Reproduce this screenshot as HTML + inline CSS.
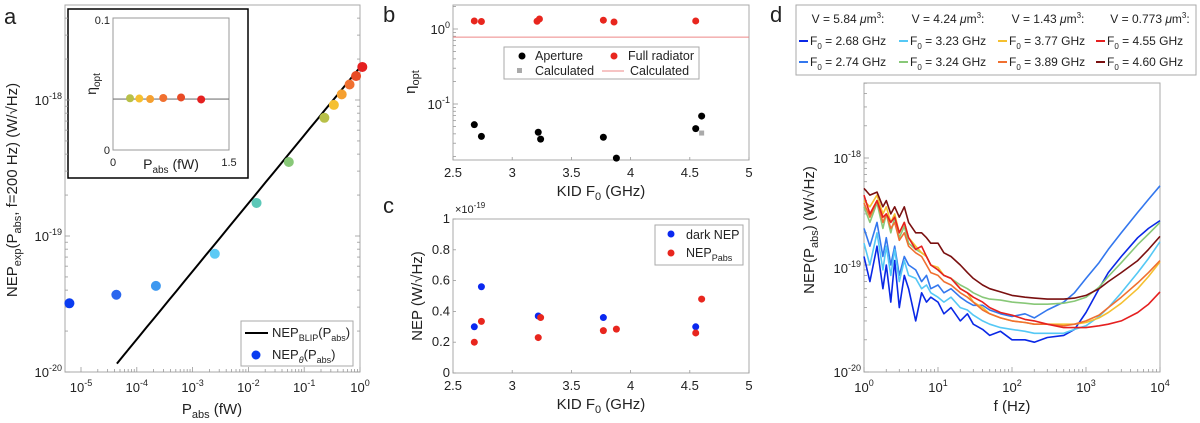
<!DOCTYPE html>
<html><head><meta charset="utf-8">
<style>
html,body{margin:0;padding:0;background:#fff;}
svg{display:block;font-family:"Liberation Sans",sans-serif;}
text{fill:#222;}
</style></head>
<body>
<svg id="fig" width="1200" height="423" viewBox="0 0 1200 423">
<!-- Panel a static -->
<text x="4" y="24" font-size="22">a</text>
<rect x="65" y="5" width="295" height="367" fill="none" stroke="#aaa"/>
<g font-size="13" text-anchor="end">
<text x="62" y="377">10<tspan dy="-6" font-size="9">-20</tspan></text>
<text x="62" y="241">10<tspan dy="-6" font-size="9">-19</tspan></text>
<text x="62" y="105">10<tspan dy="-6" font-size="9">-18</tspan></text>
</g>
<text x="212" y="414" font-size="15" text-anchor="middle">P<tspan dy="4" font-size="11">abs</tspan><tspan dy="-4"> (fW)</tspan></text>
<text transform="translate(17,190) rotate(-90)" font-size="15" text-anchor="middle">NEP<tspan dy="4" font-size="11">exp</tspan><tspan dy="-4">(P</tspan><tspan dy="4" font-size="11">abs</tspan><tspan dy="-4">, f=200 Hz)  (W/√Hz)</tspan></text>
<rect x="241" y="321" width="112" height="45" fill="#fff" stroke="#aaa"/>
<line x1="245" y1="333" x2="268" y2="333" stroke="#000" stroke-width="2"/>
<text x="272" y="337" font-size="13">NEP<tspan dy="4" font-size="9">BLIP</tspan><tspan dy="-4">(P</tspan><tspan dy="4" font-size="9">abs</tspan><tspan dy="-4">)</tspan></text>
<circle cx="256" cy="355" r="4.5" fill="#0a3cf0"/>
<text x="272" y="359" font-size="13">NEP<tspan dy="4" font-size="9" font-style="italic">θ</tspan><tspan dy="-4">(P</tspan><tspan dy="4" font-size="9">abs</tspan><tspan dy="-4">)</tspan></text>
<!-- inset -->
<rect x="68" y="9" width="180" height="169" fill="#fff" stroke="#000" stroke-width="1.5"/>
<rect x="113" y="18" width="116" height="132" fill="none" stroke="#999"/>
<g font-size="11">
<text x="110" y="24" text-anchor="end">0.1</text>
<text x="110" y="154" text-anchor="end">0</text>
<text x="113" y="166" text-anchor="middle">0</text>
<text x="229" y="166" text-anchor="middle">1.5</text>
</g>
<text x="171" y="169" font-size="14" text-anchor="middle">P<tspan dy="4" font-size="10">abs</tspan><tspan dy="-4"> (fW)</tspan></text>
<text transform="translate(96,84) rotate(-90)" font-size="14" text-anchor="middle">η<tspan dy="4" font-size="10">opt</tspan></text>

<!-- Panel b static -->
<text x="383" y="22" font-size="22">b</text>
<rect x="453" y="5" width="296" height="155" fill="none" stroke="#aaa"/>
<g font-size="13" text-anchor="end">
<text x="450" y="34">10<tspan dy="-6" font-size="9">0</tspan></text>
<text x="450" y="109">10<tspan dy="-6" font-size="9">-1</tspan></text>
</g>
<text x="601" y="196" font-size="15" text-anchor="middle">KID F<tspan dy="4" font-size="11">0</tspan><tspan dy="-4"> (GHz)</tspan></text>
<text transform="translate(415,82) rotate(-90)" font-size="15" text-anchor="middle">η<tspan dy="4" font-size="11">opt</tspan></text>
<rect x="504" y="47" width="195" height="32" fill="#fff" stroke="#aaa"/>
<circle cx="522" cy="56" r="3.5" fill="#000"/>
<text x="535" y="60" font-size="12.5">Aperture</text>
<circle cx="614" cy="56" r="3.5" fill="#e8261e"/>
<text x="628" y="60" font-size="12.5">Full radiator</text>
<rect x="517" y="68" width="5" height="5" fill="#aaa"/>
<text x="535" y="75" font-size="12.5">Calculated</text>
<line x1="602" y1="71" x2="624" y2="71" stroke="#e88"/>
<text x="630" y="75" font-size="12.5">Calculated</text>

<!-- Panel c static -->
<text x="383" y="213" font-size="22">c</text>
<text x="455" y="213" font-size="11" fill="#444">×10<tspan dy="-5" font-size="8">-19</tspan></text>
<rect x="453" y="219" width="296" height="154" fill="none" stroke="#aaa"/>
<text x="601" y="409" font-size="15" text-anchor="middle">KID F<tspan dy="4" font-size="11">0</tspan><tspan dy="-4"> (GHz)</tspan></text>
<text transform="translate(422,296) rotate(-90)" font-size="15" text-anchor="middle">NEP (W/√Hz)</text>
<rect x="655" y="225" width="88" height="40" fill="#fff" stroke="#aaa"/>
<circle cx="671" cy="234" r="3.5" fill="#0a28f0"/>
<text x="686" y="239" font-size="12.5">dark NEP</text>
<circle cx="671" cy="253" r="3.5" fill="#e8261e"/>
<text x="686" y="257" font-size="12.5">NEP<tspan dy="4" font-size="9">Pabs</tspan></text>

<!-- Panel d static -->
<text x="770" y="22" font-size="22">d</text>
<rect x="864" y="83" width="296" height="289" fill="none" stroke="#aaa"/>
<g font-size="13" text-anchor="end">
<text x="861" y="377">10<tspan dy="-6" font-size="9">-20</tspan></text>
<text x="861" y="273">10<tspan dy="-6" font-size="9">-19</tspan></text>
<text x="861" y="163">10<tspan dy="-6" font-size="9">-18</tspan></text>
</g>
<text x="1012" y="411" font-size="15" text-anchor="middle">f (Hz)</text>
<text transform="translate(814,230) rotate(-90)" font-size="15" text-anchor="middle">NEP(P<tspan dy="4" font-size="11">abs</tspan><tspan dy="-4">) (W/√Hz)</tspan></text>
<rect x="796" y="5" width="400" height="70" fill="#fff" stroke="#aaa"/>
<g font-size="12" text-anchor="middle">
<text x="848" y="23">V = 5.84 <tspan font-style="italic">μ</tspan>m<tspan dy="-5" font-size="8">3</tspan><tspan dy="5">:</tspan></text>
<text x="948" y="23">V = 4.24 <tspan font-style="italic">μ</tspan>m<tspan dy="-5" font-size="8">3</tspan><tspan dy="5">:</tspan></text>
<text x="1048" y="23">V = 1.43 <tspan font-style="italic">μ</tspan>m<tspan dy="-5" font-size="8">3</tspan><tspan dy="5">:</tspan></text>
<text x="1150" y="23">V = 0.773 <tspan font-style="italic">μ</tspan>m<tspan dy="-5" font-size="8">3</tspan><tspan dy="5">:</tspan></text>
</g>
<g id="plots"></g>
</svg>
<script>
// ---------- Panel a data ----------
const aPabs = [6.2e-6, 4.3e-5, 2.2e-4, 2.5e-3, 1.4e-2, 5.3e-2, 0.23, 0.34, 0.47, 0.65, 0.85, 1.1];
const aNep = [3.2e-20, 3.7e-20, 4.3e-20, 7.4e-20, 1.75e-19, 3.5e-19, 7.4e-19, 9.2e-19, 1.1e-18, 1.3e-18, 1.5e-18, 1.75e-18];
const aColors = ['#0a3cf0','#2a66ee','#3d98f0','#5ccaf5','#5cc8b8','#88c878','#b8c048','#f5c030','#f5a030','#f07030','#e84a25','#e52020'];
const aBlipCoef = [1.74e-18];
const aXTicks = [-5,-4,-3,-2,-1,0];
// inset
const insetP = [0.22, 0.34, 0.48, 0.65, 0.88, 1.14];
const insetEta = [0.0392, 0.0390, 0.0386, 0.0394, 0.0398, 0.0383];
const insetColors = ['#b8c048','#f5c030','#f5a030','#f07030','#e84a25','#e52020'];
const insetLine = [0.0386];
// ---------- Panel b data ----------
const bF0 = [2.68, 2.74, 3.22, 3.24, 3.77, 3.88, 4.55, 4.60];
const bFull = [1.28, 1.26, 1.27, 1.36, 1.31, 1.24, 1.28];
const bFullF0 = [2.68, 2.74, 3.21, 3.23, 3.77, 3.86, 4.55];
const bAperture = [0.053, 0.037, 0.042, 0.034, 0.036, 0.019, 0.047, 0.069];
const bCalcF0 = [4.60];
const bCalc = [0.041];
const bCalcLine = [0.78];
const xTicksGHz = [2.5, 3, 3.5, 4, 4.5, 5];
// ---------- Panel c data ----------
const cDarkF0 = [2.68, 2.74, 3.22, 3.77, 4.55];
const cDark = [0.30, 0.56, 0.37, 0.36, 0.30];
const cPabsF0 = [2.68, 2.74, 3.22, 3.24, 3.77, 3.88, 4.55, 4.60];
const cPabs = [0.20, 0.335, 0.23, 0.36, 0.275, 0.285, 0.26, 0.48];
const cYTicks = [0, 0.2, 0.4, 0.6, 0.8, 1];
// ---------- Panel d data (NEP in units of 1e-19 W/sqrtHz) ----------
const dFreq = [1,1.2,1.5,1.8,2,2.3,2.6,3,3.5,4,5,6,7,8,10,12,15,20,25,30,40,50,70,100,150,200,300,500,700,1000,1500,2000,3000,5000,7000,10000];
const dLabels = ['F0 = 2.68 GHz','F0 = 2.74 GHz','F0 = 3.23 GHz','F0 = 3.24 GHz','F0 = 3.77 GHz','F0 = 3.89 GHz','F0 = 4.55 GHz','F0 = 4.60 GHz'];
const dColors = ['#0a28e6','#3377ee','#55c8f5','#88c878','#f5c030','#f07030','#e52020','#7a1010'];
const d268 = [1.2,0.7,1.5,0.6,1.0,0.45,1.1,0.4,0.8,0.6,0.3,0.55,0.45,0.5,0.45,0.35,0.4,0.3,0.35,0.28,0.25,0.22,0.24,0.2,0.2,0.19,0.21,0.22,0.25,0.36,0.6,0.85,1.2,1.8,2.2,2.6];
const d274 = [2.2,1.5,2.5,1.2,1.8,1.0,1.5,0.8,1.2,1.0,0.9,0.7,0.8,0.6,0.65,0.55,0.6,0.5,0.45,0.42,0.42,0.38,0.35,0.33,0.35,0.32,0.38,0.45,0.55,0.75,1.05,1.4,2.0,3.1,4.1,5.5];
const d323 = [1.6,1.0,2.0,0.9,1.5,0.8,1.4,0.7,1.1,0.8,0.75,0.6,0.65,0.55,0.5,0.45,0.5,0.4,0.38,0.34,0.3,0.28,0.26,0.25,0.24,0.23,0.23,0.23,0.25,0.27,0.33,0.4,0.55,0.85,1.15,1.65];
const d324 = [3.5,2.5,3.8,2.2,3.0,2.0,2.8,1.8,2.3,1.6,1.4,1.3,1.2,1.0,0.9,0.8,0.75,0.65,0.6,0.55,0.5,0.48,0.47,0.45,0.44,0.43,0.43,0.44,0.46,0.5,0.62,0.78,1.05,1.55,1.95,2.5];
const d377 = [4.0,3.5,4.5,3.0,3.5,2.5,3.0,2.0,2.5,1.8,1.5,1.3,1.2,1.0,0.95,0.8,0.75,0.6,0.55,0.45,0.4,0.35,0.32,0.3,0.29,0.28,0.28,0.28,0.28,0.29,0.32,0.36,0.44,0.6,0.78,1.07];
const d389 = [3.8,2.8,4.0,2.5,3.0,2.2,2.5,1.7,2.0,1.5,1.3,1.2,1.0,0.85,0.8,0.7,0.65,0.55,0.5,0.45,0.38,0.35,0.32,0.3,0.29,0.28,0.28,0.27,0.28,0.3,0.34,0.4,0.5,0.68,0.85,1.1];
const d455 = [4.5,3.0,4.0,2.8,3.0,2.5,2.8,2.0,2.5,1.8,1.4,1.5,1.2,1.0,0.9,0.8,0.75,0.6,0.55,0.5,0.45,0.4,0.36,0.34,0.31,0.3,0.28,0.26,0.26,0.26,0.27,0.28,0.3,0.36,0.43,0.56];
const d460 = [5.2,4.5,4.8,3.5,4.0,3.0,3.5,2.8,3.5,2.5,2.0,2.0,1.8,1.6,1.6,1.3,1.2,1.0,0.85,0.75,0.65,0.6,0.56,0.52,0.5,0.49,0.48,0.48,0.49,0.52,0.6,0.7,0.85,1.1,1.4,1.85];
const dSeries = [d268,d274,d323,d324,d377,d389,d455,d460];
const dXTicks = [0,1,2,3,4];

const NS='http://www.w3.org/2000/svg';
const root=document.getElementById('plots');
function mk(tag,attrs,parent){const e=document.createElementNS(NS,tag);for(const k in attrs)e.setAttribute(k,attrs[k]);(parent||root).appendChild(e);return e;}
const L=Math.log10;
// scales
const ax=p=>360+L(p)*55.8, ay=v=>372-(L(v)+20)*136;
const ix=p=>113+p/1.5*116, iy=v=>150-v/0.1*132;
const gx=f=>453+(f-2.5)/2.5*296;
const by=v=>104-(L(v)+1)*75;
const cy=v=>373-v*154;
const dx=f=>864+L(f)*74, dy=v=>372-(L(v)+1)*107;

function tick(x1,y1,x2,y2){return mk('line',{x1,y1,x2,y2,stroke:'#999','stroke-width':0.8});}

// ---- panel a ticks ----
for(const t of aXTicks){
  const x=ax(Math.pow(10,t));
  const tl=tick(x,372,x,367);
  
  
  const lbl=mk('text',{x:x,y:392,'font-size':13,'text-anchor':'middle'});
  lbl.innerHTML='10<tspan dy="-6" font-size="9">'+(t===0?'0':t)+'</tspan>';
  
  
  for(let m=2;m<10;m++){const mx=ax(m*Math.pow(10,t)); if(mx<=360&&mx>=65){const mt=tick(mx,372,mx,369);
    
    }}
}
for(let e=-20;e<=-18;e++){for(let m=1;m<10;m++){const y=ay(m*Math.pow(10,e)); if(y>=5&&y<=372){const mt=tick(65,y,m===1?70:68,y);
  
  
  const mt2=tick(360,y,m===1?355:357,y);
  
  }}}
// BLIP line
{const p0=Math.pow(10,-5.29),p1=1.1;const pts=[];for(let i=0;i<=40;i++){const p=p0*Math.pow(p1/p0,i/40);const v=aBlipCoef[0]*Math.sqrt(p);if(v>=1e-20)pts.push(ax(p).toFixed(1)+','+ay(v).toFixed(1));}
 const pl=mk('polyline',{points:pts.join(' '),fill:'none',stroke:'#000','stroke-width':2});
 
 }
aPabs.forEach((p,i)=>{const c=mk('circle',{cx:ax(p),cy:ay(aNep[i]),r:5,fill:aColors[i]});
  
  });
// inset
{const l=mk('line',{x1:113,x2:229,y1:iy(insetLine[0]),y2:iy(insetLine[0]),stroke:'#777','stroke-width':1.2});
 
 }
insetP.forEach((p,i)=>{const c=mk('circle',{cx:ix(p),cy:iy(insetEta[i]),r:4,fill:insetColors[i]});
  
  });

// ---- panel b ----
for(const t of xTicksGHz){const x=gx(t);
  const t1=tick(x,160,x,157);
  
  
  const lb=mk('text',{x:x,y:177,'font-size':13,'text-anchor':'middle'});lb.textContent=String(t);
  
  
  const t2=tick(x,373,x,370);
  
  
  const lc=mk('text',{x:x,y:390,'font-size':13,'text-anchor':'middle'});lc.textContent=String(t);
  
  }
for(let e=-2;e<=0;e++){for(let m=1;m<10;m++){const y=by(m*Math.pow(10,e));if(y>=5&&y<=160){const t=tick(453,y,m===1?458:456,y);
  
  }}}
{const l=mk('line',{x1:453,x2:749,y1:by(bCalcLine[0]),y2:by(bCalcLine[0]),stroke:'#e88','stroke-width':1});
 
 }
bFullF0.forEach((f,i)=>{const c=mk('circle',{cx:gx(f),cy:by(bFull[i]),r:3.5,fill:'#e8261e'});
  
  });
bF0.forEach((f,i)=>{const c=mk('circle',{cx:gx(f),cy:by(bAperture[i]),r:3.5,fill:'#000'});
  
  });
bCalcF0.forEach((f,i)=>{const r=mk('rect',{x:gx(f)-2.5,y:by(bCalc[i])-2.5,width:5,height:5,fill:'#aaa'});
  
  });

// ---- panel c ----
for(const v of cYTicks){const y=cy(v);
  const t=tick(453,y,456,y);
  
  
  const lb=mk('text',{x:450,y:y+4,'font-size':13,'text-anchor':'end'});lb.textContent=String(v);
  
  }
cDarkF0.forEach((f,i)=>{const c=mk('circle',{cx:gx(f),cy:cy(cDark[i]),r:3.5,fill:'#0a28f0'});
  
  });
cPabsF0.forEach((f,i)=>{const c=mk('circle',{cx:gx(f),cy:cy(cPabs[i]),r:3.5,fill:'#e8261e'});
  
  });

// ---- panel d ----
for(const t of dXTicks){const x=dx(Math.pow(10,t));
  const tk=tick(x,372,x,367);
  
  
  const lb=mk('text',{x:x,y:392,'font-size':13,'text-anchor':'middle'});
  lb.innerHTML='10<tspan dy="-6" font-size="9">'+t+'</tspan>';
  
  
  if(t<4){for(let m=2;m<10;m++){const mx=dx(m*Math.pow(10,t));const mt=tick(mx,372,mx,369);
    
    }}}
for(let e=-20;e<=-18;e++){for(let m=1;m<10;m++){const y=dy(m*Math.pow(10,e+19));if(y>=83&&y<=372){const t=tick(864,y,m===1?869:867,y);
  
  }}}
dSeries.forEach((s,k)=>{const pts=s.map((v,i)=>dx(dFreq[i]).toFixed(1)+','+dy(v).toFixed(1)).join(' ');
  const pl=mk('polyline',{points:pts,fill:'none',stroke:dColors[k],'stroke-width':1.6,'stroke-linejoin':'round'});
  
  });
// legend entries
const colX=[799,899,998,1096];
dLabels.forEach((lab,k)=>{const x=colX[Math.floor(k/2)], y=(k%2===0)?41:62;
  const ln=mk('line',{x1:x,x2:x+9,y1:y,y2:y,stroke:dColors[k],'stroke-width':2});
  
  
  const tx=mk('text',{x:x+11,y:y+4,'font-size':12});
  tx.innerHTML='F<tspan dy="4" font-size="8">0</tspan><tspan dy="-4">'+lab.slice(2)+'</tspan>';
  
  });
</script>
</body></html>
